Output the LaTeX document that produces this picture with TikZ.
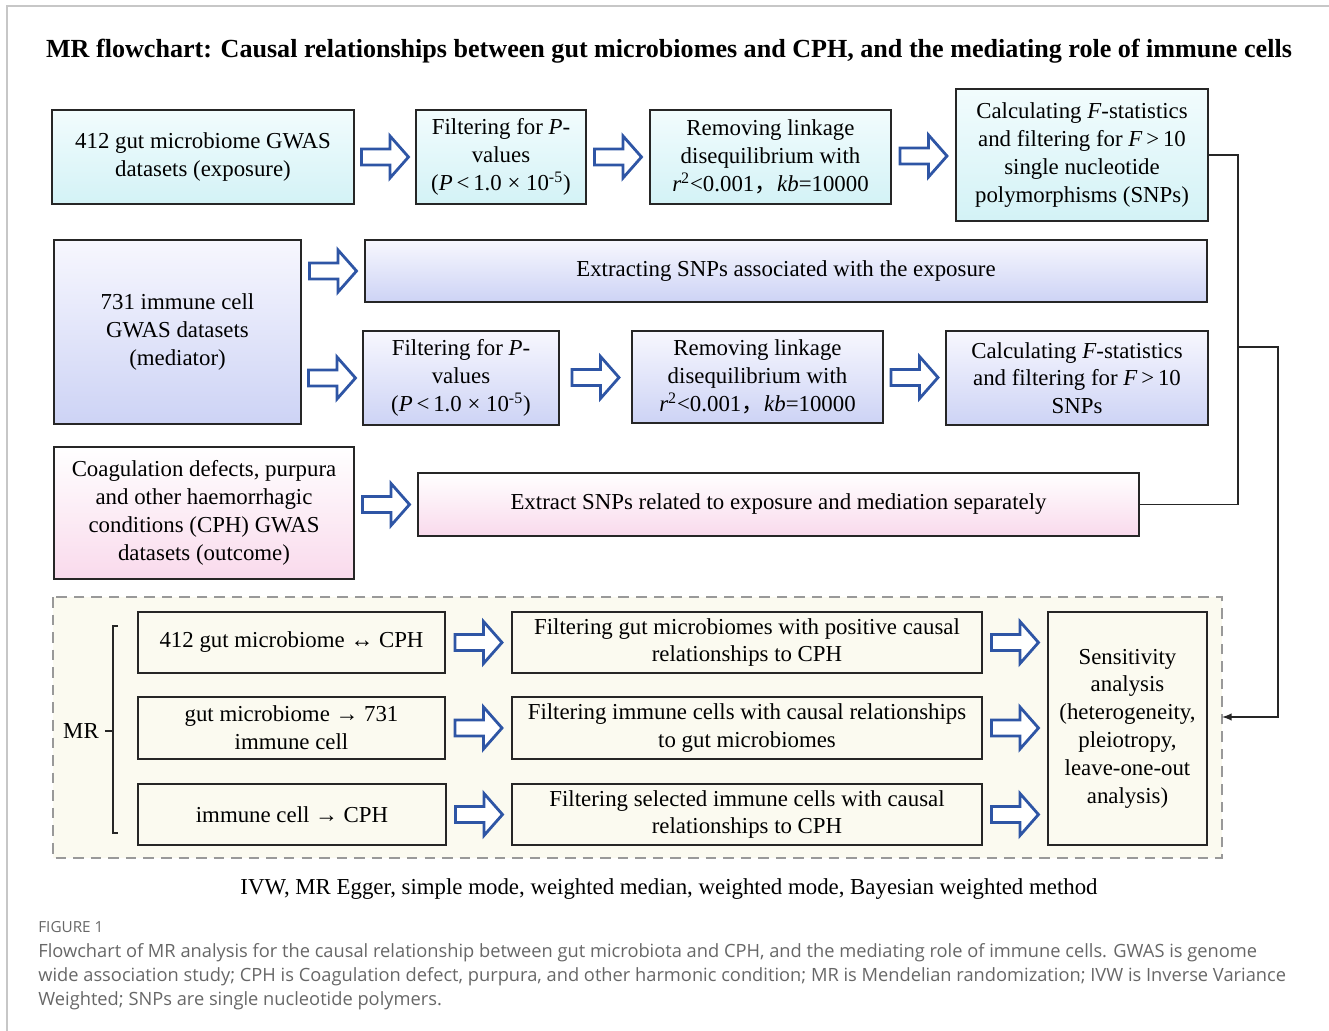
\documentclass[tikz,border=0pt]{standalone}
\usepackage{fontspec}
\setmainfont{Liberation Serif}
\newfontfamily\capfont{Open Sans}
\newfontfamily\cjk{Noto Sans CJK SC}
\usepackage{xcolor}
\usepackage{tikz}
\usetikzlibrary{calc,positioning}
\definecolor{arrowblue}{HTML}{2E55A5}
\definecolor{cyantop}{HTML}{F2FCFD}
\definecolor{cyanbot}{HTML}{D3F2F6}
\definecolor{lavtop}{HTML}{F7F7FE}
\definecolor{lavbot}{HTML}{CDD3F5}
\definecolor{pinktop}{HTML}{FFFFFF}
\definecolor{pinkbot}{HTML}{F9DAEC}
\definecolor{cream}{HTML}{FBFAF0}
\definecolor{capgray}{HTML}{676767}
\newcommand{\fwcomma}{{\cjk ，}}

\begin{document}
\begin{tikzpicture}[x=0.02cm,y=-0.02cm,
	box/.style={draw=black!85,line width=0.9pt,align=center,inner sep=2pt,font=\fontsize{13}{15.8}\selectfont},
	cyanbox/.style={box,top color=cyantop,bottom color=cyanbot},
	lavbox/.style={box,top color=lavtop,bottom color=lavbot},
	pinkbox/.style={box,top color=pinktop,bottom color=pinkbot},
	plainbox/.style={box,fill=cream},
	captext/.style={anchor=base west,inner sep=0pt,text=capgray,font=\capfont\fontsize{10.4}{12}\selectfont},
	fatarrow/.pic={\draw[arrowblue,line width=1.6pt,line join=miter,fill=white] (-23.5,-8)--(5,-8)--(5,-21)--(23.5,0)--(5,21)--(5,8)--(-23.5,8)--cycle;}]
	\useasboundingbox (0,0) rectangle (1329,1031);
	\draw[black!22,line width=0.8pt] (7,1031) -- (7,6) -- (1329,6);
	\node[anchor=base,font=\fontsize{14.85}{18}\selectfont\bfseries] (title) at (669,57) {MR flowchart: Causal relationships between gut microbiomes and CPH, and the mediating role of immune cells};
	% exposure row
	\node[cyanbox,minimum width=6.04cm,minimum height=1.88cm] (a1) at (203,157) {412 gut microbiome GWAS\\datasets (exposure)};
	\node[cyanbox,minimum width=3.4cm,minimum height=1.88cm] (a2) at (501,157) {Filtering for \emph{P}-\\values\\(\emph{P}\,<\,1.0 × 10\textsuperscript{-5})};
	\node[cyanbox,minimum width=4.82cm,minimum height=1.88cm] (a3) at (770.5,157) {Removing linkage\\disequilibrium with\\\emph{r}\textsuperscript{2}<0.001\fwcomma\emph{kb}=10000};
	\node[cyanbox,minimum width=5.04cm,minimum height=2.64cm] (a4) at (1082,155) {Calculating \emph{F}-statistics\\and filtering for \emph{F}\,>\,10\\single nucleotide\\polymorphisms (SNPs)};
	% mediator row
	\node[lavbox,minimum width=4.94cm,minimum height=3.68cm] (b1) at (177.5,332) {731 immune cell\\GWAS datasets\\(mediator)};
	\node[lavbox,minimum width=16.84cm,minimum height=1.24cm] (b2) at (786,271) {Extracting SNPs associated with the exposure};
	\node[lavbox,minimum width=3.92cm,minimum height=1.88cm] (b3) at (461,378) {Filtering for \emph{P}-\\values\\(\emph{P}\,<\,1.0 × 10\textsuperscript{-5})};
	\node[lavbox,minimum width=5.02cm,minimum height=1.84cm] (b4) at (757.5,377) {Removing linkage\\disequilibrium with\\\emph{r}\textsuperscript{2}<0.001\fwcomma\emph{kb}=10000};
	\node[lavbox,minimum width=5.24cm,minimum height=1.88cm] (b5) at (1077,378) {Calculating \emph{F}-statistics\\and filtering for \emph{F}\,>\,10\\SNPs};
	% outcome row
	\node[pinkbox,minimum width=6cm,minimum height=2.64cm] (c1) at (204,513) {Coagulation defects, purpura\\and other haemorrhagic\\conditions (CPH) GWAS\\datasets (outcome)};
	\node[pinkbox,minimum width=14.42cm,minimum height=1.26cm] (c2) at (778.5,504.5) {Extract SNPs related to exposure and mediation separately};
	% MR part
	\draw[black!40,dashed,dash pattern=on 6pt off 4pt,line width=0.7pt,fill=cream] (53,597) rectangle (1222,858);
	\node[plainbox,minimum width=6.14cm,minimum height=1.22cm] (d1) at (291.5,642.5) {412 gut microbiome ↔ CPH};
	\node[plainbox,minimum width=6.14cm,minimum height=1.24cm] (d2) at (291.5,728) {gut microbiome → 731\\immune cell};
	\node[plainbox,minimum width=6.16cm,minimum height=1.22cm] (d3) at (292,814.5) {immune cell → CPH};
	\node[plainbox,minimum width=9.4cm,minimum height=1.22cm] (e1) at (747,642.5) {Filtering gut microbiomes with positive causal\\relationships to CPH};
	\node[plainbox,minimum width=9.4cm,minimum height=1.24cm] (e2) at (747,728) {Filtering immune cells with causal relationships\\to gut microbiomes};
	\node[plainbox,minimum width=9.4cm,minimum height=1.22cm] (e3) at (747,814.5) {Filtering selected immune cells with causal\\relationships to CPH};
	\node[plainbox,minimum width=3.18cm,minimum height=4.66cm] (f) at (1127.5,728.5) {Sensitivity\\analysis\\(heterogeneity,\\pleiotropy,\\leave-one-out\\analysis)};
	\node[font=\fontsize{13}{16}\selectfont] (mr) at (81,731) {MR};
	\draw[black!85,line width=0.9pt] (118,626) -- (113,626) -- (113,833) -- (118,833);
	\draw[black!85,line width=0.9pt] (mr.east) -- (113,731);
	\node[anchor=base,font=\fontsize{13}{16}\selectfont] (methods) at (669,894) {IVW, MR Egger, simple mode, weighted median, weighted mode, Bayesian weighted method};
	% block arrows
	\pic at ($(a1.east)!0.5!(a2.west)$) {fatarrow};
	\pic at ($(a2.east)!0.5!(a3.west)$) {fatarrow};
	\pic at ($(a3.east)!0.5!(a4.west)$) {fatarrow};
	\pic at ($(b1.east |- b2.west)!0.5!(b2.west)$) {fatarrow};
	\pic at ($(b1.east |- b3.west)!0.5!(b3.west)$) {fatarrow};
	\pic at ($(b3.east)!0.5!(b4.west)$) {fatarrow};
	\pic at ($(b4.east)!0.5!(b5.west)$) {fatarrow};
	\pic at ($(c1.east |- c2.west)!0.5!(c2.west)$) {fatarrow};
	\pic at ($(d1.east)!0.5!(e1.west)$) {fatarrow};
	\pic at ($(d2.east)!0.5!(e2.west)$) {fatarrow};
	\pic at ($(d3.east)!0.5!(e3.west)$) {fatarrow};
	\pic at ($(e1.east)!0.5!(e1.east -| f.west)$) {fatarrow};
	\pic at ($(e2.east)!0.5!(e2.east -| f.west)$) {fatarrow};
	\pic at ($(e3.east)!0.5!(e3.east -| f.west)$) {fatarrow};
	% connectors
	\coordinate (bus) at (1238,504.5);
	\coordinate (split) at (1238,347);
	\coordinate (turn) at (1278,347);
	\coordinate (mrin) at (1222,717);
	\draw[black!85,line width=0.9pt] (a4.east) -| (bus) -- (c2.east);
	\draw[black!85,line width=0.9pt,-latex] (split) -- (turn) |- (mrin);
	% caption
	\node[captext,font=\capfont\fontsize{8.7}{10}\selectfont] (figno) at (38,932) {FIGURE 1};
	\node[captext] (cap1) at (38,957) {Flowchart of MR analysis for the causal relationship between gut microbiota and CPH, and the mediating role of immune cells. GWAS is genome};
	\node[captext] (cap2) at (38,981) {wide association study; CPH is Coagulation defect, purpura, and other harmonic condition; MR is Mendelian randomization; IVW is Inverse Variance};
	\node[captext] (cap3) at (38,1005) {Weighted; SNPs are single nucleotide polymers.};
\end{tikzpicture}
\end{document}
